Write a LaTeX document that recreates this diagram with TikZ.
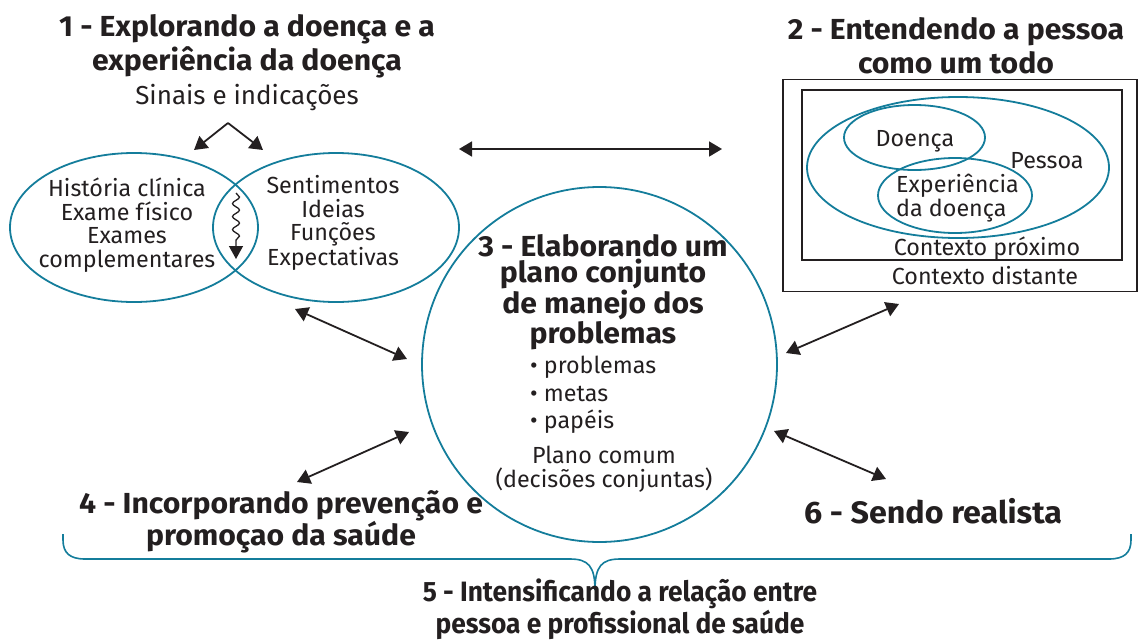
\documentclass[tikz,border=0pt]{standalone}
\usepackage{fontspec}
\setmainfont{Fira Sans}
\newfontfamily\hfont[FakeStretch=1.04]{Fira Sans}
\newfontfamily\cfont[FakeStretch=0.94]{Fira Sans}
\usetikzlibrary{arrows.meta,decorations.pathmorphing,shapes.geometric}
\definecolor{teal}{RGB}{20,125,155}
\definecolor{ink}{RGB}{35,31,32}
\begin{document}
\begin{tikzpicture}[x=1pt,y=-1pt,
  ring/.style={draw=teal,line width=1.8pt,ellipse,inner sep=0pt},
  box/.style={draw=ink,line width=1.6pt,rectangle,inner sep=0pt},
  body/.style={text=ink,font=\fontsize{23.3}{23.7}\selectfont,align=center,inner sep=0pt},
  head/.style={text=ink,font=\hfont\bfseries\fontsize{29}{34}\selectfont,align=center,inner sep=0pt},
  dbl/.style={draw=ink,line width=1.8pt,{Triangle[length=13pt,width=15pt]}-{Triangle[length=13pt,width=15pt]}},
  sgl/.style={draw=ink,line width=1.8pt,-{Triangle[length=13pt,width=15pt]}}]
\useasboundingbox (0,0) rectangle (1138,640);
% titles
\node[head] (t1) at (247,46) {1 - Explorando a doença e a\\experiência da doença};
\node[body,font=\fontsize{26}{28}\selectfont] (sinais) at (247,97) {Sinais e indicações};
\node[head] (t2) at (956,46) {2 - Entendendo a pessoa\\como um todo};
% left ellipses
\node[ring,minimum width=248pt,minimum height=149pt] (hist) at (134,227.5) {};
\node[ring,minimum width=246pt,minimum height=149pt] (sent) at (336,227.5) {};
\node[body] (histtxt) at (127,225) {História clínica\\Exame físico\\Exames\\complementares};
\node[body] (senttxt) at (333,223) {Sentimentos\\Ideias\\Funções\\Expectativas};
% fork arrows
\coordinate (apex) at (228,123);
\coordinate (forkL) at (194,150);
\coordinate (forkR) at (263,150);
\draw[sgl] (apex) -- (forkL);
\draw[sgl] (apex) -- (forkR);
% wavy arrow
\coordinate (wavetop) at (236,193);
\coordinate (wavebot) at (236,259);
\draw[line width=1.3pt,ink,-{Triangle[length=13pt,width=14pt]},decorate,decoration={snake,amplitude=3.5pt,segment length=13pt,post length=13pt}] (wavetop) -- (wavebot);
% right boxes
\node[box,minimum width=354pt,minimum height=212pt] (distante) at (960,185.5) {};
\node[box,minimum width=320pt,minimum height=170pt] (proximo) at (962,175) {};
\node[ring,minimum width=302pt,minimum height=141pt] (pessoa) at (958,167.5) {};
\node[ring,minimum width=141pt,minimum height=65pt] (doenca) at (914.5,137.5) {};
\node[ring,minimum width=154pt,minimum height=75pt] (exper) at (955,195.5) {};
\node[body] (doencatxt) at (915,141) {Doença};
\node[body] (pessoatxt) at (1047,161) {Pessoa};
\node[body,align=left,anchor=west] (expertxt) at (896,198) {Experiência\\da doença};
\node[body] (proxtxt) at (987,249) {Contexto próximo};
\node[body] (disttxt) at (985,276) {Contexto distante};
% horizontal arrow
\coordinate (hL) at (459,149);
\coordinate (hR) at (722,149);
\draw[dbl] (hL) -- (hR);
% circle
\node[ring,circle,minimum size=355pt] (plano) at (599.5,364.5) {};
\node[head,font=\hfont\bfseries\fontsize{29}{26.4}\selectfont] (t3) at (603,292) {3 - Elaborando um\\plano conjunto\\de manejo dos\\problemas};
\node[body,align=left,anchor=west,font=\fontsize{23.3}{27.5}\selectfont] (bul) at (530,395) {• problemas\\• metas\\• papéis};
\node[body] (comum) at (604,469) {Plano comum\\(decisões conjuntas)};
% diagonal arrows
\coordinate (a1s) at (295,309);
\coordinate (a1e) at (407,359);
\coordinate (a2s) at (409,432);
\coordinate (a2e) at (297,482);
\coordinate (a3s) at (786,353);
\coordinate (a3e) at (899,304);
\coordinate (a4s) at (774,431);
\coordinate (a4e) at (886,479);
\draw[dbl] (a1s) -- (a1e);
\draw[dbl] (a2s) -- (a2e);
\draw[dbl] (a3s) -- (a3e);
\draw[dbl] (a4s) -- (a4e);
% bottom titles
\node[head,font=\hfont\bfseries\fontsize{29}{32}\selectfont] (t4) at (281,522) {4 - Incorporando prevenção e\\promoçao da saúde};
\node[head,font=\hfont\bfseries\fontsize{31}{34}\selectfont] (t6) at (933,511) {6 - Sendo realista};
% brace
\coordinate (brL) at (63,534);
\coordinate (brR) at (1131,534);
\coordinate (brTip) at (595,590);
\draw[teal,line width=1.6pt] (brL) -- (63,540) .. controls (63,553) and (70,559) .. (85,559) -- (570,559)
  .. controls (588,559) and (595,566) .. (brTip)
  .. controls (595,566) and (602,559) .. (620,559) -- (1109,559)
  .. controls (1124,559) and (1131,553) .. (1131,540) -- (brR);
\node[head,font=\cfont\bfseries\fontsize{28}{27}\selectfont] (t5) at (620,609) {5 - Intensificando a relação entre\\pessoa e profissional de saúde};
\end{tikzpicture}
\end{document}
